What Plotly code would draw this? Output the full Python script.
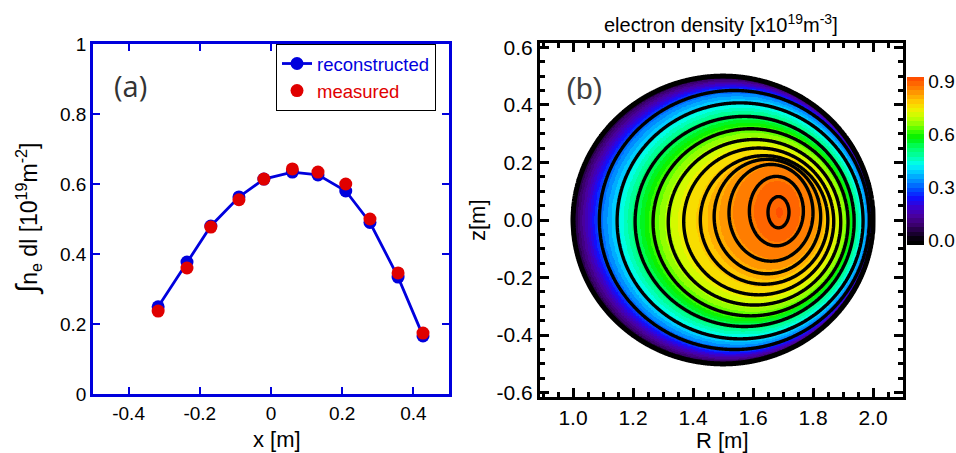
import numpy as np
import plotly.graph_objects as go

# ---------------- data: panel (a) line-integrated density ----------------
chord_x = [-0.317, -0.236, -0.169, -0.090, -0.020, 0.060, 0.132, 0.210, 0.278, 0.357, 0.427]
recon = [0.249, 0.377, 0.480, 0.563, 0.614, 0.634, 0.626, 0.580, 0.490, 0.334, 0.166]
measured = [0.237, 0.360, 0.477, 0.555, 0.614, 0.643, 0.634, 0.600, 0.500, 0.346, 0.174]

x_ticks = [-0.4, -0.2, 0.0, 0.2, 0.4]
x_ticktext = ["-0.4", "-0.2", "0", "0.2", "0.4"]
y_ticks = [0, 0.2, 0.4, 0.6, 0.8, 1.0]
y_ticktext = ["0", "0.2", "0.4", "0.6", "0.8", "1"]

# ---------------- data: panel (b) flux-surface geometry ----------------
a_minor = 0.5
rho_knots = [0.0, 0.07, 0.18, 0.28, 0.355, 0.425, 0.50, 0.575, 0.65, 0.73, 0.82, 0.90, 1.0]
Rc_knots = [1.688, 1.685, 1.678, 1.660, 1.648, 1.637, 1.619, 1.605, 1.592, 1.572, 1.557, 1.538, 1.500]
zc_knots = [0.027, 0.027, 0.031, 0.025, 0.012, 0.000, -0.005, -0.008, -0.008, -0.005, -0.003, 0.0, 0.0]
kappa_knots = [1.60, 1.55, 1.34, 1.20, 1.12, 1.05, 1.02, 1.0, 1.0, 1.0, 1.0, 1.0, 1.0]

# contour lines drawn (flux-surface labels) and boundary
line_rho = [0.07, 0.18, 0.28, 0.355, 0.425, 0.50, 0.575, 0.65, 0.73, 0.82, 0.90]
boundary_rho = 1.0

# density profile vs flux label (10^19 m^-3)
prof_rho = [0.0, 0.07, 0.18, 0.28, 0.355, 0.425, 0.50, 0.575, 0.65, 0.73, 0.82, 0.90, 0.95, 1.0]
prof_n = [0.905, 0.890, 0.870, 0.845, 0.815, 0.785, 0.745, 0.690, 0.625, 0.520, 0.410, 0.300, 0.160, 0.030]

R_ticks = [1.0, 1.2, 1.4, 1.6, 1.8, 2.0]
R_ticktext = ["1.0", "1.2", "1.4", "1.6", "1.8", "2.0"]
z_ticks = [-0.6, -0.4, -0.2, 0.0, 0.2, 0.4, 0.6]
z_ticktext = ["-0.6", "-0.4", "-0.2", "0.0", "0.2", "0.4", "0.6"]
cb_ticks = [0.0, 0.3, 0.6, 0.9]
cb_ticktext = ["0.0", "0.3", "0.6", "0.9"]

# colour table (value -> colour)
cmap_vals = [0.00, 0.04, 0.09, 0.14, 0.19, 0.24, 0.29, 0.34, 0.39, 0.43, 0.48, 0.53, 0.58,
             0.62, 0.66, 0.70, 0.74, 0.78, 0.82, 0.86, 0.90, 0.93]
cmap_cols = ["#000000", "#1a0030", "#3c0070", "#4a00a0", "#3a00d0", "#1010ff", "#0050ff",
             "#0090ff", "#00d0ff", "#00fff0", "#00ffa0", "#00ff60", "#00f000", "#40ff00",
             "#90ff00", "#c8ff00", "#f0f000", "#ffd000", "#ffa800", "#ff8000", "#ff5a00",
             "#ff4000"]
zmin, zmax, zstep = -0.025, 0.925, 0.025

# ---------------- build field ----------------
Rg = np.arange(0.97, 2.03 + 1e-9, 0.0025)
Zg = np.arange(-0.53, 0.53 + 1e-9, 0.0025)
RR, ZZ = np.meshgrid(Rg, Zg)


def rho_field(RR, ZZ):
    lo = np.full(RR.shape, 1e-5)
    hi = np.full(RR.shape, 1.4)
    for _ in range(40):
        mid = 0.5 * (lo + hi)
        rc = np.interp(mid, rho_knots, Rc_knots)
        zc = np.interp(mid, rho_knots, zc_knots)
        k = np.interp(mid, rho_knots, kappa_knots)
        a = a_minor * mid
        f = ((RR - rc) / a) ** 2 + ((ZZ - zc) / (k * a)) ** 2 - 1.0
        inside = f <= 0
        hi = np.where(inside, mid, hi)
        lo = np.where(inside, lo, mid)
    return 0.5 * (lo + hi)


rho = rho_field(RR, ZZ)
dens = np.interp(rho, prof_rho, prof_n)
dens = np.where(rho <= 1.0, dens, np.nan)


def hex2rgb(h):
    return np.array([int(h[i:i + 2], 16) for i in (1, 3, 5)], dtype=float)


cols_rgb = np.array([hex2rgb(c) for c in cmap_cols])


def col_at(v):
    return [float(np.interp(v, cmap_vals, cols_rgb[:, j])) for j in range(3)]


nsteps = int(round((zmax - zmin) / zstep))
colorscale = []
for i in range(nsteps):
    vmid = zmin + (i + 0.5) * zstep
    r, g, b = col_at(vmid)
    c = f"rgb({int(r)},{int(g)},{int(b)})"
    colorscale.append([i / nsteps, c])
    colorscale.append([(i + 1) / nsteps, c])

# ---------------- figure ----------------
BLUE = "#0000dd"
RED = "#e00000"
W, H = 956, 453
font_main = "Liberation Sans, Arial, Helvetica"

fig = go.Figure()

fig.add_trace(go.Scatter(
    x=chord_x, y=recon, mode="lines+markers",
    name=f'<span style="color:{BLUE}">reconstructed</span>',
    line=dict(color=BLUE, width=2.8), marker=dict(color=BLUE, size=13),
    xaxis="x", yaxis="y"))
fig.add_trace(go.Scatter(
    x=chord_x, y=measured, mode="markers",
    name=f'<span style="color:{RED}">measured</span>',
    marker=dict(color=RED, size=13), xaxis="x", yaxis="y"))

fig.add_trace(go.Heatmap(
    x=Rg, y=Zg, z=dens, zmin=zmin, zmax=zmax, colorscale=colorscale,
    xaxis="x2", yaxis="y2", hoverinfo="skip", showlegend=False,
    colorbar=dict(x=907 / W, xanchor="left", y=1 - 161 / H, yanchor="middle",
                  len=168 / H, lenmode="fraction", thickness=17, xpad=0, ypad=0,
                  outlinewidth=0, tickvals=cb_ticks, ticktext=cb_ticktext,
                  ticks="",
                  tickfont=dict(size=19, color="black", family=font_main))))

for lv in line_rho:
    fig.add_trace(go.Contour(
        x=Rg, y=Zg, z=rho, autocontour=False,
        contours=dict(start=lv, end=lv, size=0.5, coloring="none"),
        line=dict(color="black", width=3.4, smoothing=1),
        showscale=False, showlegend=False, hoverinfo="skip",
        xaxis="x2", yaxis="y2"))
fig.add_trace(go.Contour(
    x=Rg, y=Zg, z=rho, autocontour=False,
    contours=dict(start=boundary_rho, end=boundary_rho, size=0.5, coloring="none"),
    line=dict(color="black", width=5, smoothing=1),
    showscale=False, showlegend=False, hoverinfo="skip",
    xaxis="x2", yaxis="y2"))

left_dom_x = [93 / W, 449 / W]
left_dom_y = [1 - 394 / H, 1 - 44 / H]
right_dom_x = [540 / W, 903 / W]
right_dom_y = [1 - 397 / H, 1 - 43 / H]

common = dict(automargin=False, showgrid=False, zeroline=False, tickmode="array")

fig.update_layout(
    template="none",
    width=W, height=H, margin=dict(l=0, r=0, t=0, b=0, autoexpand=False),
    paper_bgcolor="white", plot_bgcolor="white",
    font=dict(family=font_main, color="black"),
    showlegend=True,
    legend=dict(x=276 / W, y=1 - 44 / H, xanchor="left", yanchor="top",
                bgcolor="white", bordercolor="black", borderwidth=1,
                font=dict(size=18.5, family=font_main), tracegroupgap=0,
                itemwidth=30),
    xaxis=dict(domain=left_dom_x, range=[-0.5, 0.5], anchor="y",
               tickvals=x_ticks, ticktext=x_ticktext,
               ticks="inside", ticklen=7, tickwidth=2, tickcolor=BLUE,
               showline=True, linecolor=BLUE, linewidth=2.5, mirror="ticks",
               tickfont=dict(size=19), **common),
    yaxis=dict(domain=left_dom_y, range=[0, 1], anchor="x",
               tickvals=y_ticks, ticktext=y_ticktext,
               ticks="inside", ticklen=7, tickwidth=2, tickcolor=BLUE,
               showline=True, linecolor=BLUE, linewidth=2.5, mirror="ticks",
               tickfont=dict(size=19), **common),
    xaxis2=dict(domain=right_dom_x, range=[0.89, 2.10], anchor="y2",
                tickvals=R_ticks, ticktext=R_ticktext,
                ticks="inside", ticklen=9, tickwidth=2.5, tickcolor="black",
                minor=dict(ticks="inside", ticklen=5, tickwidth=2.5, tickcolor="black",
                           dtick=0.05, tick0=0, showgrid=False),
                showline=True, linecolor="black", linewidth=3, mirror="ticks",
                tickfont=dict(size=21), **common),
    yaxis2=dict(domain=right_dom_y, range=[-0.615, 0.615], anchor="x2",
                tickvals=z_ticks, ticktext=z_ticktext,
                ticks="inside", ticklen=9, tickwidth=2.5, tickcolor="black",
                minor=dict(ticks="inside", ticklen=5, tickwidth=2.5, tickcolor="black",
                           dtick=0.05, tick0=0, showgrid=False),
                showline=True, linecolor="black", linewidth=3, mirror="ticks",
                tickfont=dict(size=21), **common),
)

ann = [
    dict(text="(a)", x=130 / W, y=1 - 86 / H, font=dict(size=29, family="Open Sans", color="#333333")),
    dict(text="(b)", x=584 / W, y=1 - 88 / H, font=dict(size=30, family=font_main, color="#404040")),
    dict(text="electron density [x10<sup>19</sup>m<sup>-3</sup>]", x=721 / W, y=1 - 23 / H,
         font=dict(size=20, family=font_main)),
    dict(text="x [m]", x=277 / W, y=1 - 439 / H, font=dict(size=22, family=font_main)),
    dict(text="R [m]", x=722 / W, y=1 - 440 / H, font=dict(size=22, family=font_main)),
    dict(text="z[m]", x=477 / W, y=1 - 220 / H, textangle=-90, font=dict(size=22, family=font_main)),
    dict(text='<span style="font-size:30px">\u222b</span>n<sub>e</sub> dl [10<sup>19</sup>m<sup>-2</sup>]',
         x=27 / W, y=1 - 219 / H, textangle=-90, font=dict(size=23, family=font_main)),
]
for a in ann:
    fig.add_annotation(xref="paper", yref="paper", showarrow=False,
                       xanchor="center", yanchor="middle", **a)

fig.write_html("out.html")
